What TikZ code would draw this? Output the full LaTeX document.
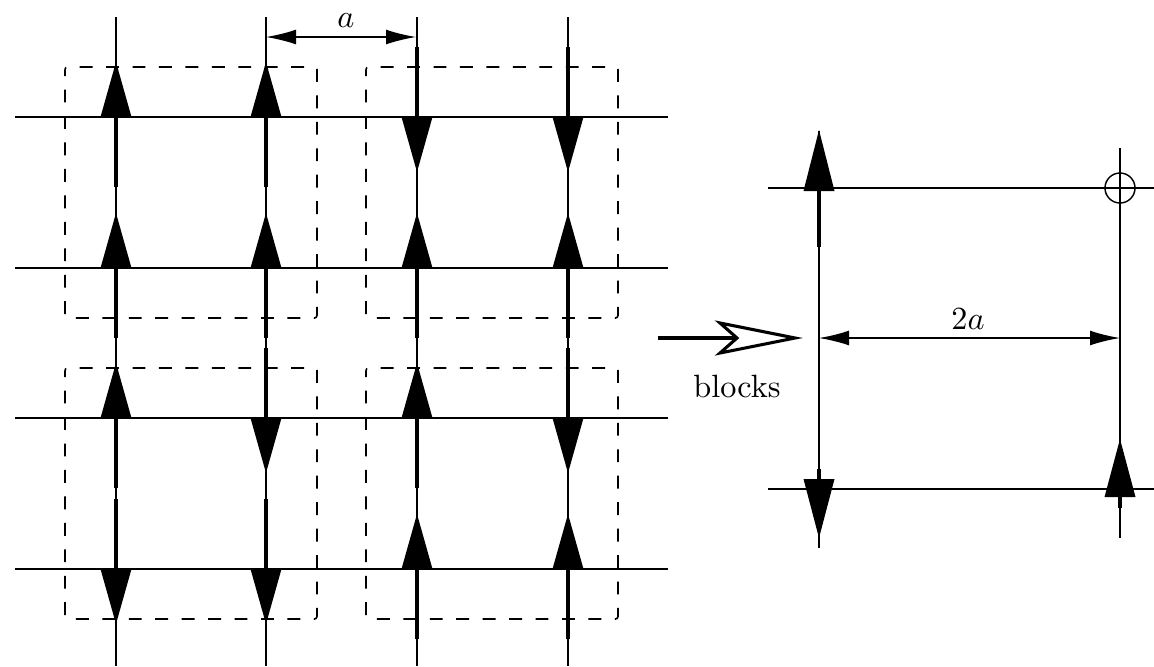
\documentclass[tikz,border=0pt]{standalone}
\usetikzlibrary{arrows.meta}
\begin{document}
\begin{tikzpicture}[x=0.31pt,y=-0.31pt,
  lat/.style={line width=0.45pt},
  shaft/.style={line width=1.15pt},
  blockbox/.style={dash pattern=on 4pt off 4.2pt, dash phase=2pt, line width=0.5pt, rounded corners=0.8pt},
  dimline/.style={line width=0.45pt, {Latex[length=9.3pt,width=4.6pt]}-{Latex[length=9.3pt,width=4.6pt]}},
  pics/spinup/.style={code={\draw[shaft] (0,70) -- (0,0); \fill (-15.5,0) -- (0,-55) -- (15.5,0) -- cycle;}},
  pics/spindown/.style={code={\draw[shaft] (0,-70) -- (0,0); \fill (-15.5,0) -- (0,55) -- (15.5,0) -- cycle;}},
]
\useasboundingbox (0,0) rectangle (1154,666);

% ---------- left lattice ----------
\foreach \y [count=\j] in {117,268,418,569} {
  \coordinate (hl\j) at (15,\y);
  \coordinate (hr\j) at (668,\y);
  \draw[lat] (hl\j) -- (hr\j);
}
\foreach \x [count=\i] in {116,266,417,568} {
  \coordinate (vt\i) at (\x,17);
  \coordinate (vb\i) at (\x,666);
  \draw[lat] (vt\i) -- (vb\i);
}

% spins (row by row)
\foreach \x/\y/\s in {
  116/117/spinup, 266/117/spinup, 417/117/spindown, 568/117/spindown,
  116/268/spinup, 266/268/spinup, 417/268/spinup, 568/268/spinup,
  116/418/spinup, 266/418/spindown, 417/418/spinup, 568/418/spindown,
  116/569/spindown, 266/569/spindown, 417/569/spinup, 568/569/spinup}
  \pic at (\x,\y) {\s};

% blocks
\draw[blockbox] (65,67) rectangle (317,318);
\draw[blockbox] (366,67) rectangle (618,318);
\draw[blockbox] (65,368) rectangle (317,619);
\draw[blockbox] (366,368) rectangle (618,619);

% lattice spacing a
\coordinate (aL) at (266,37);
\coordinate (aR) at (416,37);
\draw[dimline] (aL) -- (aR);
\node (alab) at (346,21) {$a$};

% ---------- blocking arrow ----------
\coordinate (bs) at (658,338);
\coordinate (bn) at (737,338);
\draw[line width=1.25pt] (bs) -- (bn);
\draw[line width=0.95pt, fill=white, line join=miter] (720,323) -- (795,338) -- (720,353) -- (bn) -- cycle;
\node (blab) at (737,386) {blocks};

% ---------- right (block) lattice ----------
\coordinate (Rh1l) at (768,188); \coordinate (Rh1r) at (1154,188);
\coordinate (Rh2l) at (768,489); \coordinate (Rh2r) at (1154,489);
\coordinate (Rv1t) at (819,131); \coordinate (Rv1b) at (819,548);
\coordinate (Rv2t) at (1120,148); \coordinate (Rv2b) at (1120,538);
\draw[lat] (Rh1l) -- (Rh1r);
\draw[lat] (Rh2l) -- (Rh2r);
\draw[lat] (Rv1t) -- (Rv1b);
\draw[lat] (Rv2t) -- (Rv2b);

% block spins
\draw[shaft] (819,247) -- (819,191);
\fill (803.5,191) -- (819,130) -- (834.5,191) -- cycle;
\draw[shaft] (819,469) -- (819,479);
\fill (803.5,479) -- (819,538) -- (834.5,479) -- cycle;
\draw[shaft] (1120,508) -- (1120,497);
\fill (1104.5,497) -- (1120,439) -- (1135.5,497) -- cycle;

% empty site
\node[draw, circle, line width=0.45pt, minimum size=9.3pt, inner sep=0pt] (zero) at (1120,188) {};

% spacing 2a
\coordinate (bL) at (819,338);
\coordinate (bR) at (1120,338);
\draw[dimline] (bL) -- (bR);
\node (blab2) at (968,319) {$2a$};
\end{tikzpicture}
\end{document}
